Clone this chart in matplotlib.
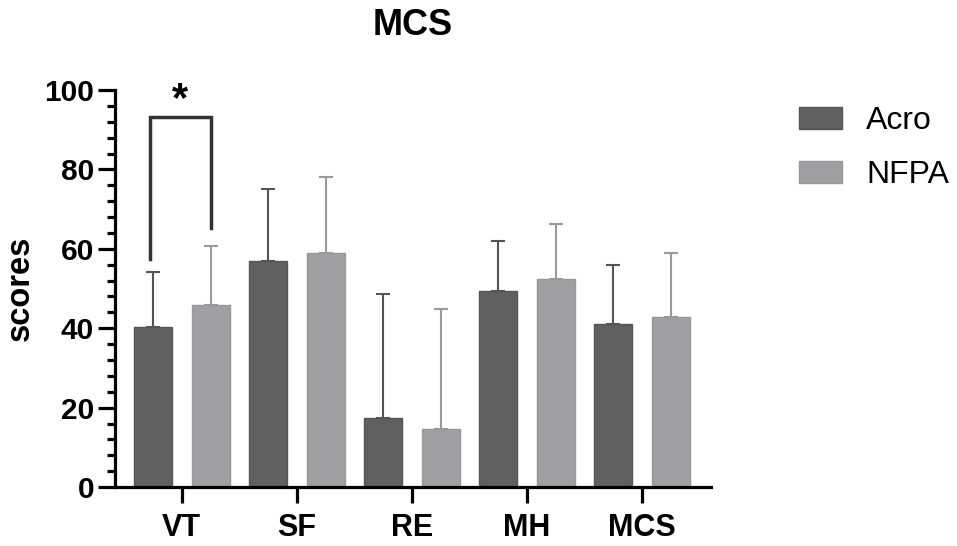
import matplotlib.pyplot as plt
import numpy as np
from matplotlib.ticker import MultipleLocator

plt.rcParams['font.family'] = ['Liberation Sans', 'DejaVu Sans']

categories = ['VT', 'SF', 'RE', 'MH', 'MCS']
acro_mean = [40.2, 57.0, 17.3, 49.5, 41.1]
acro_sd = [14.0, 18.2, 31.3, 12.5, 14.8]
nfpa_mean = [45.8, 58.9, 14.5, 52.4, 42.9]
nfpa_sd = [14.9, 19.1, 30.3, 13.9, 16.1]
groups = ['Acro', 'NFPA']

dark = '#606060'
light = '#a0a0a3'

fig = plt.figure(figsize=(9.57, 5.46), dpi=100)
ax = fig.add_axes([0.1202, 0.108, 0.623, 0.727])

x = np.arange(len(categories))
w = 0.33
off = 0.25

ax.bar(x - off, acro_mean, w, color=dark, edgecolor='#555555', linewidth=1, label=groups[0], zorder=2)
ax.bar(x + off, nfpa_mean, w, color=light, edgecolor='#989898', linewidth=1, label=groups[1], zorder=2)
ax.errorbar(x - off, acro_mean, yerr=[np.zeros(5), acro_sd], fmt='none',
            ecolor='#555555', elinewidth=1.5, capsize=5, capthick=1.5, zorder=1)
ax.errorbar(x + off, nfpa_mean, yerr=[np.zeros(5), nfpa_sd], fmt='none',
            ecolor='#9a9a9a', elinewidth=1.5, capsize=5, capthick=1.5, zorder=1)

# significance bracket VT
bx0, bx1 = x[0] - off - 0.03, x[0] + off
ax.plot([bx0, bx0, bx1, bx1], [57.4, 93.1, 93.1, 65.3], color='#333333', lw=2.5,
        solid_joinstyle='miter', clip_on=False)
ax.text((bx0 + bx1) / 2, 97.5, '*', ha='center', va='center', fontsize=30, fontweight='bold')

ax.set_xlim(-0.58, 4.6)
ax.set_ylim(0, 100)
ax.set_xticks(x)
ax.set_xticklabels(categories)
ax.set_yticks([0, 20, 40, 60, 80, 100])
ax.yaxis.set_minor_locator(MultipleLocator(4))

for s in ['top', 'right']:
    ax.spines[s].set_visible(False)
for s in ['left', 'bottom']:
    ax.spines[s].set_linewidth(2.3)

ax.tick_params(axis='both', which='major', width=2.3, pad=3)
ax.tick_params(axis='x', which='major', length=11.5, pad=7, labelsize=22)
ax.tick_params(axis='y', which='major', length=12, labelsize=21.5)
ax.tick_params(axis='y', which='minor', length=6, width=2.3)
for lab in ax.get_xticklabels() + ax.get_yticklabels():
    lab.set_fontweight('bold')

ax.set_ylabel('scores', fontsize=23.5, fontweight='bold', labelpad=6)
ax.set_title('MCS', fontsize=26, fontweight='bold', pad=40)

ax.legend(loc='upper left', bbox_to_anchor=(0.835, 0.805), bbox_transform=fig.transFigure,
          frameon=False, fontsize=23, handlelength=1.35, handleheight=0.66,
          handletextpad=0.75, labelspacing=0.75, borderpad=0, borderaxespad=0)

fig.savefig('out.png', dpi=100)
